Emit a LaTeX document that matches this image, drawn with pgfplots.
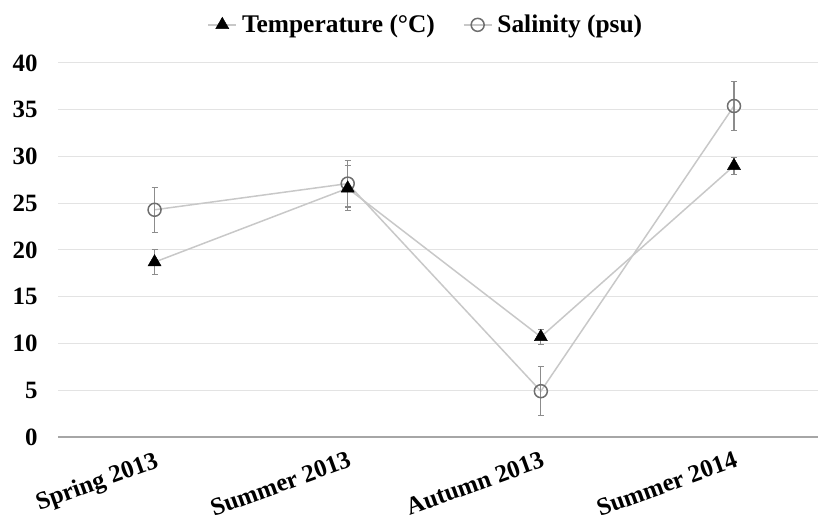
\documentclass[border=0pt]{standalone}
\usepackage{pgfplots}
\pgfplotsset{compat=1.18}
\usepackage{fontspec}
\setmainfont{Liberation Serif}

\definecolor{linegray}{HTML}{C8C8C8}
\definecolor{gridgray}{HTML}{E3E3E3}
\definecolor{axisgray}{HTML}{A6A6A6}
\definecolor{errgray}{HTML}{8C8C8C}
\definecolor{circgray}{HTML}{6E6E6E}

\begin{document}
\begin{tikzpicture}
\begin{axis}[
    name=ax,
    scale only axis,
    width=760bp, height=374bp,
    xmin=-0.5, xmax=3.435,
    ymin=0, ymax=40,
    axis line style={draw=none},
    major tick length=0pt,
    xtick={0,1,2,3},
    xticklabels={Spring 2013,Summer 2013,Autumn 2013,Summer 2014},
    ytick={5,10,...,40},
    extra y ticks={0},
    extra y tick style={grid style={draw=axisgray, line width=2bp}},
    ymajorgrids=true,
    grid style={draw=gridgray, line width=1bp},
    /pgf/number format/assume math mode=true,
    tick label style={font=\fontsize{25}{29}\selectfont\bfseries},
    yticklabel style={xshift=-17bp},
    xticklabel style={rotate=20, anchor=north east, xshift=-2bp, yshift=-9bp},
    legend columns=2,
    reverse legend,
    legend image code/.code={
        \draw[mark repeat=2, mark phase=2] plot coordinates {(0bp,0bp)(14bp,0bp)(28bp,0bp)};
    },
    legend style={at={(0.484,1.102)}, anchor=center, draw=none, fill=none,
        font=\fontsize{25.5}{29}\selectfont\bfseries,
        /tikz/every even column/.append style={column sep=26bp},
        /tikz/every odd column/.append style={column sep=3bp}},
    clip=false,
]

\addplot[
    color=linegray, line width=1.5bp,
    mark=o, mark size=6.5bp,
    mark options={draw=circgray, line width=1.5bp, fill=none},
    error bars/.cd, y dir=both, y explicit,
    error bar style={draw=errgray, line width=1.2bp},
    error mark options={rotate=90, draw=errgray, mark size=3bp, line width=1.2bp},
] coordinates {
    (0,24.3) +- (0,2.4)
    (1,27.1) +- (0,2.5)
    (2,4.9)  +- (0,2.6)
    (3,35.4) +- (0,2.6)
};
\addlegendentry{Salinity (psu)}

\addplot[
    color=linegray, line width=1.5bp,
    mark=triangle*, mark size=7.5bp,
    mark options={draw=black, fill=black, line width=0.5bp},
    error bars/.cd, y dir=both, y explicit,
    error bar style={draw=errgray, line width=1.2bp},
    error mark options={rotate=90, draw=errgray, mark size=3bp, line width=1.2bp},
] coordinates {
    (0,18.7) +- (0,1.35)
    (1,26.6) +- (0,2.4)
    (2,10.7) +- (0,0.8)
    (3,29.0) +- (0,0.9)
};
\addlegendentry{Temperature (°C)}

\end{axis}
\pgfresetboundingbox
\path[use as bounding box] ([xshift=-58bp,yshift=-87bp]ax.south west) rectangle ([yshift=63bp]ax.north east);
\end{tikzpicture}
\end{document}
